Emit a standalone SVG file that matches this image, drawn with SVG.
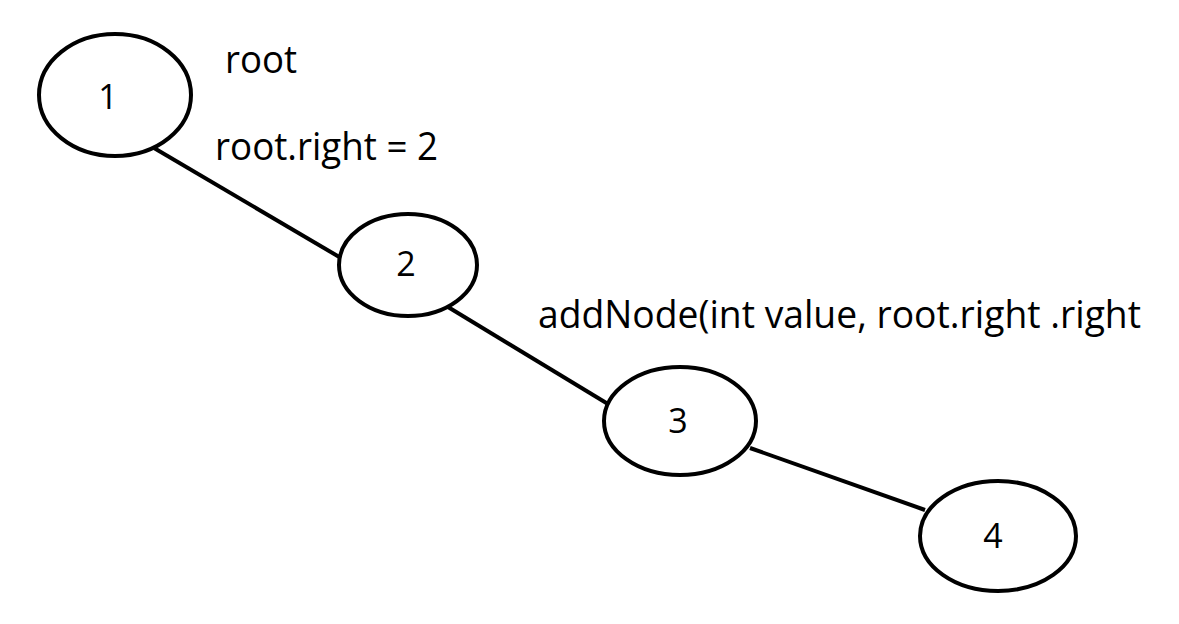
<svg xmlns="http://www.w3.org/2000/svg" width="1179" height="624" viewBox="0 0 1179 624">
<style>
.node{fill:#fff;stroke:#000;stroke-width:4}
.edge{stroke:#000;stroke-width:4;fill:none}
.num{font-family:"Open Sans","Noto Sans",sans-serif;font-size:34px;fill:#000;text-anchor:middle}
.lbl{font-family:"Open Sans","Noto Sans",sans-serif;font-size:38px;fill:#000}
</style>
<rect width="1179" height="624" fill="#fff"/>
<g id="connectors">
<line class="edge" x1="154" y1="148" x2="341" y2="258"/>
<line class="edge" x1="448" y1="307" x2="608" y2="404"/>
<line class="edge" x1="750" y1="448" x2="925" y2="510"/>
</g>
<g id="node1"><ellipse class="node" cx="115" cy="95" rx="76" ry="61"/><text class="num" x="108" y="109">1</text></g>
<g id="node2"><ellipse class="node" cx="408" cy="265" rx="69" ry="51"/><text class="num" x="406" y="276">2</text></g>
<g id="node3"><ellipse class="node" cx="680" cy="421" rx="76" ry="54"/><text class="num" x="678" y="433">3</text></g>
<g id="node4"><ellipse class="node" cx="998" cy="536" rx="78" ry="55"/><text class="num" x="993" y="548">4</text></g>
<g id="labels">
<text class="lbl" x="225" y="73" textLength="72" lengthAdjust="spacingAndGlyphs">root</text>
<text class="lbl" x="215" y="160" textLength="223" lengthAdjust="spacingAndGlyphs">root.right = 2</text>
<text class="lbl" x="538" y="328" textLength="603" lengthAdjust="spacingAndGlyphs">addNode(int value, root.right .right</text>
</g>
</svg>
